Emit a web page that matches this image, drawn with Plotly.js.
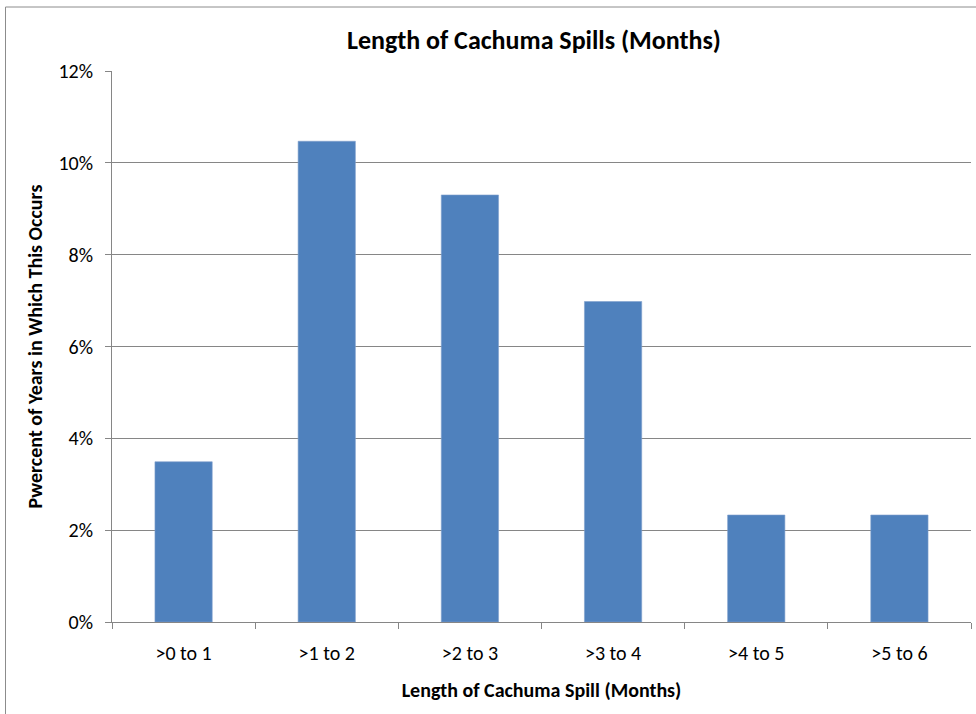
<!DOCTYPE html>
<html>
<head>
<meta charset="utf-8">
<script src="https://cdn.plot.ly/plotly-3.0.1.min.js"></script>
<style>
html,body{margin:0;padding:0;background:#fff;}
#chart{width:976px;height:714px;}
</style>
</head>
<body>
<div id="chart"></div>
<script>
const categories = [">0 to 1", ">1 to 2", ">2 to 3", ">3 to 4", ">4 to 5", ">5 to 6"];
const percentOfYears = [0.0349, 0.1047, 0.0930, 0.0698, 0.0233, 0.0233];
const yTickValues = [0, 0.02, 0.04, 0.06, 0.08, 0.10, 0.12];

const FONT = "Carlito, Calibri, Lato, 'Open Sans', sans-serif";
const GRID = "#868686";

const trace = {
  type: "bar",
  x: categories,
  y: percentOfYears,
  marker: {color: "#4F81BD", line: {color: "#7FA0CC", width: 0.6}},
  width: 0.4,
  hoverinfo: "x+y"
};

const layout = {
  width: 976,
  height: 714,
  margin: {l: 112, r: 5, t: 71, b: 92},
  paper_bgcolor: "#ffffff",
  plot_bgcolor: "#ffffff",
  font: {family: FONT, color: "#000000", size: 20},
  showlegend: false,
  title: {
    text: "<b>Length of Cachuma Spills (Months)</b>",
    font: {family: FONT, size: 26, color: "#000000"},
    x: 534 / 976, xref: "container", xanchor: "center",
    y: 1 - 40 / 714, yref: "container", yanchor: "middle"
  },
  xaxis: {
    type: "category",
    range: [-0.5, 5.5],
    showline: true, linecolor: GRID, linewidth: 1,
    showgrid: false,
    ticks: "outside", ticklen: 6, tickcolor: GRID, tickwidth: 1,
    tickson: "boundaries",
    ticklabelstandoff: 13,
    tickfont: {family: FONT, size: 20, color: "#000000"},
    title: {
      text: "<b>Length of Cachuma Spill (Months)</b>",
      font: {family: FONT, size: 20, color: "#000000"},
      standoff: 18
    },
    automargin: false,
    fixedrange: true
  },
  yaxis: {
    range: [0, 0.12],
    tickvals: yTickValues,
    tickformat: ".0%",
    showline: true, linecolor: GRID, linewidth: 1,
    showgrid: true, gridcolor: GRID, gridwidth: 1,
    zeroline: false,
    ticks: "outside", ticklen: 6, tickcolor: GRID, tickwidth: 1,
    ticklabelstandoff: 8,
    tickfont: {family: FONT, size: 20, color: "#000000"},
    title: {
      text: "<b>Pwercent of Years in Which This Occurs</b>",
      font: {family: FONT, size: 20, color: "#000000"},
      standoff: 10
    },
    automargin: false,
    fixedrange: true
  },
  shapes: [{
    type: "rect", xref: "paper", yref: "paper",
    x0: (5.5 - 112) / 859, x1: 1.2,
    y0: -0.4, y1: (622 - 7) / 551,
    line: {color: "#8c8c8c", width: 1},
    fillcolor: "rgba(0,0,0,0)",
    layer: "below"
  }]
};

Plotly.newPlot("chart", [trace], layout, {displayModeBar: false, staticPlot: true});
</script>
</body>
</html>
